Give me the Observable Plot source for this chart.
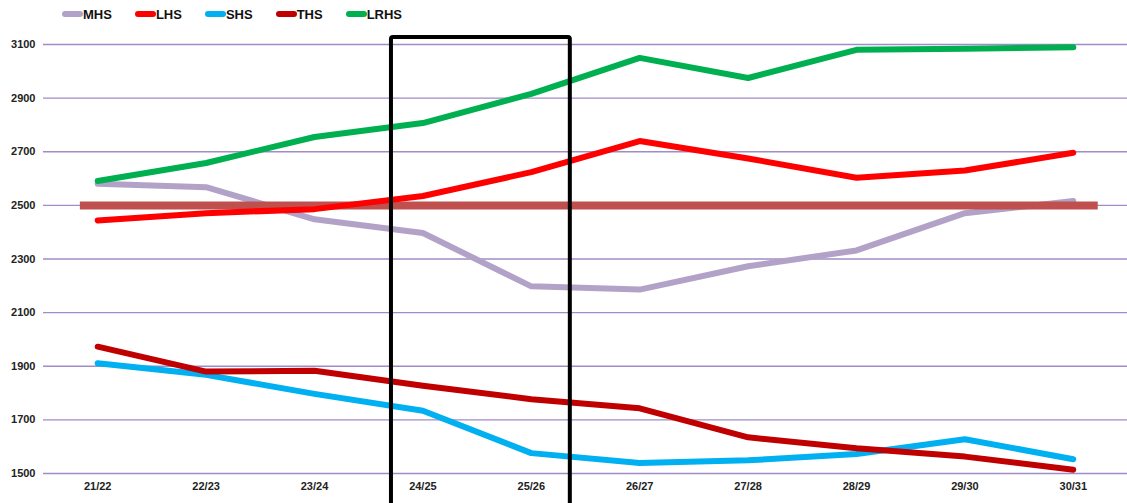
<!DOCTYPE html>
<html>
<head>
<meta charset="utf-8">
<script src="https://cdn.jsdelivr.net/npm/d3@7"></script>
<script src="https://cdn.jsdelivr.net/npm/@observablehq/plot@0.6"></script>
<style>
  html, body { margin: 0; padding: 0; background: #fff; }
  body { width: 1127px; height: 503px; overflow: hidden; font-family: "Liberation Sans", Arial, sans-serif; }
  #legend { height: 28px; display: flex; align-items: center; padding-left: 62px; box-sizing: border-box; }
  .item { display: flex; align-items: center; margin-right: 23px; font-weight: bold; font-size: 13px; color: #111; }
  .sw { width: 21px; height: 6px; border-radius: 3px; display: inline-block; }
  #chart svg { display: block; overflow: visible; }
</style>
</head>
<body>
<div id="legend"></div>
<div id="chart"></div>
<script>
const labels = ["21/22", "22/23", "23/24", "24/25", "25/26", "26/27", "27/28", "28/29", "29/30", "30/31"];
const seriesNames = ["MHS", "LHS", "SHS", "THS", "LRHS"];
const seriesColors = ["#b3a2c7", "#ff0000", "#00b0f0", "#c00000", "#00b050"];
const MHS  = [2581, 2568, 2448, 2397, 2198, 2186, 2273, 2332, 2471, 2516];
const LHS  = [2444, 2471, 2486, 2535, 2624, 2740, 2675, 2603, 2630, 2696];
const SHS  = [1911, 1868, 1797, 1734, 1576, 1539, 1549, 1573, 1628, 1553];
const THS  = [1973, 1880, 1883, 1827, 1777, 1743, 1635, 1594, 1563, 1514];
const LRHS = [2591, 2658, 2755, 2807, 2916, 3050, 2975, 3080, 3084, 3090];
const yTicks = [1500, 1700, 1900, 2100, 2300, 2500, 2700, 2900, 3100];
const refValue = 2500;
const refSpan = [-0.16, 9.23];
const boxX = [2.71, 4.36];
const boxY = [1380, 3126];

const seriesValues = {MHS, LHS, SHS, THS, LRHS};
const colorOf = Object.fromEntries(seriesNames.map((n, i) => [n, seriesColors[i]]));

// legend
const legend = document.getElementById("legend");
seriesNames.forEach((n, i) => {
  const it = document.createElement("div");
  it.className = "item";
  it.innerHTML = `<span class="sw" style="background:${seriesColors[i]}"></span><span>${n}</span>`;
  legend.appendChild(it);
});

const rows = name => seriesValues[name].map((v, i) => ({i, v, name}));

const lineMark = name => Plot.line(rows(name), {
  x: "i", y: "v", stroke: colorOf[name], strokeWidth: 6,
  strokeLinecap: "round", strokeLinejoin: "round"
});

const chart = Plot.plot({
  width: 1127,
  height: 475,
  marginLeft: 43,
  marginRight: 0,
  marginTop: 16,
  marginBottom: 30,
  style: {fontFamily: "'Liberation Sans', Arial, sans-serif", fontSize: "11px", fontWeight: "bold", color: "#222", background: "#fff"},
  x: {domain: [-0.5, 9.5], ticks: d3.range(labels.length), tickFormat: i => labels[i], tickSize: 0, tickPadding: 9, label: null},
  y: {domain: [1500, 3100], ticks: yTicks, tickSize: 0, tickPadding: 8, label: null, tickFormat: d => String(d)},
  marks: [
    Plot.ruleY(yTicks, {stroke: "#a08cc6", strokeWidth: 1.3}),
    lineMark("MHS"),
    Plot.ruleY([refValue], {x1: refSpan[0], x2: refSpan[1], stroke: "#c0504d", strokeWidth: 8}),
    lineMark("LHS"),
    lineMark("SHS"),
    lineMark("THS"),
    lineMark("LRHS"),
    Plot.rect([{x1: boxX[0], x2: boxX[1], y1: boxY[0], y2: boxY[1]}], {
      x1: "x1", x2: "x2", y1: "y1", y2: "y2", fill: "none", stroke: "#000", strokeWidth: 4, rx: 2
    })
  ]
});
document.getElementById("chart").appendChild(chart);
</script>
</body>
</html>
